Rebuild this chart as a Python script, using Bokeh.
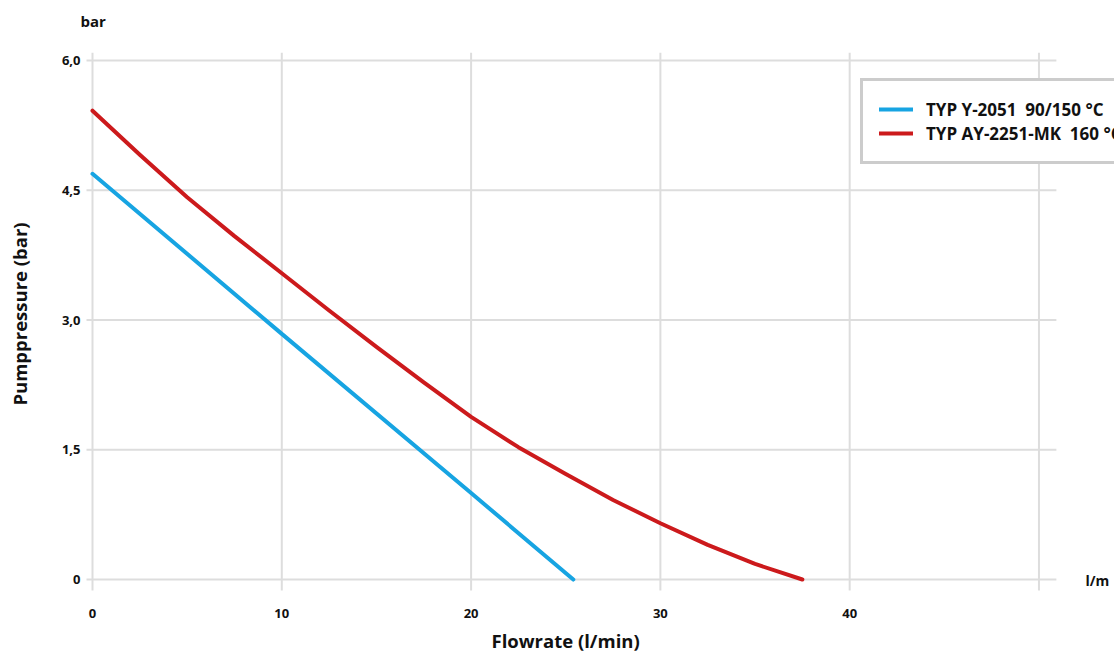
from bokeh.plotting import figure
from bokeh.models import Range1d, FixedTicker, Legend, LegendItem, Label, Title
from bokeh.embed import file_html
from bokeh.resources import INLINE

# ---- data ----
blue_name = "TYP Y-2051  90/150 °C"
red_name = "TYP AY-2251-MK  160 °C"
blue_flow = [0, 10, 20, 25.4]
blue_bar = [4.69, 2.84, 1.0, 0.0]
red_flow = [0, 2.5, 5, 7.5, 10, 12.5, 15, 17.5, 20, 22.5, 25, 27.5, 30, 32.5, 35, 37.5]
red_bar = [5.42, 4.91, 4.42, 3.97, 3.54, 3.11, 2.69, 2.28, 1.88, 1.53, 1.22, 0.92, 0.65, 0.40, 0.18, 0.0]
x_ticks = [0, 10, 20, 30, 40]
x_grid = [0, 10, 20, 30, 40, 50]
y_ticks = [0, 1.5, 3, 4.5, 6]
y_tick_labels = ["0", "1,5", "3,0", "4,5", "6,0"]

FONT = "Open Sans"
BLUE = "#17A4E2"
RED = "#CC1A1C"
GRID = "#DDDDDD"
TXT = "#111111"

# grid extents (data units) and visible ranges
GX0, GX1 = -0.42, 50.92
GY0, GY1 = -0.127, 6.09

p = figure(width=1114, height=662, output_backend="svg", toolbar_location=None,
           x_range=Range1d(-0.317, 53.99), y_range=Range1d(-0.150, 6.289),
           min_border_left=86, min_border_right=0, min_border_top=35, min_border_bottom=70)
p.outline_line_color = None
p.background_fill_color = "white"
p.border_fill_color = "white"
p.xgrid.visible = False
p.ygrid.visible = False

# grid lines (limited extent, as in the reference)
p.segment(x0=x_grid, y0=[GY0] * len(x_grid), x1=x_grid, y1=[GY1] * len(x_grid),
          line_color=GRID, line_width=2)
p.segment(x0=[GX0] * len(y_ticks), y0=y_ticks, x1=[GX1] * len(y_ticks), y1=y_ticks,
          line_color=GRID, line_width=2)

# axes
for ax in (p.xaxis, p.yaxis):
    ax.axis_line_color = None
    ax.major_tick_line_color = None
    ax.minor_tick_line_color = None
    ax.major_tick_in = 0
    ax.major_tick_out = 0
    ax.minor_tick_in = 0
    ax.minor_tick_out = 0
    ax.major_label_text_font = FONT
    ax.major_label_text_font_style = "bold"
    ax.major_label_text_font_size = "13px"
    ax.major_label_text_color = TXT
    ax.axis_label_text_font = FONT
    ax.axis_label_text_font_style = "bold"
    ax.axis_label_text_font_size = "18.5px"
    ax.axis_label_text_color = TXT

p.xaxis.ticker = FixedTicker(ticks=x_ticks)
p.xaxis.major_label_standoff = 16

p.yaxis.ticker = FixedTicker(ticks=y_ticks)
p.yaxis.major_label_overrides = {t: s for t, s in zip(y_ticks, y_tick_labels)}
p.yaxis.major_label_standoff = 6
p.yaxis.axis_label = "Pumppressure (bar)"
p.yaxis.axis_label_standoff = 27

# x axis title (placed below the axis, centred under the grid)
p.add_layout(Title(text="Flowrate (l/min)", align="left", offset=405, standoff=11,
                   text_font=FONT, text_font_style="bold", text_font_size="18.5px",
                   text_color=TXT), "below")
# unit label on top
p.add_layout(Title(text="bar", align="left", offset=-6, standoff=9,
                   text_font=FONT, text_font_style="bold", text_font_size="15px",
                   text_color=TXT), "above")

# series
r_blue = p.line(blue_flow, blue_bar, line_color=BLUE, line_width=4, line_cap="round")
r_red = p.line(red_flow, red_bar, line_color=RED, line_width=4, line_cap="round", line_join="round")

legend = Legend(items=[LegendItem(label=blue_name, renderers=[r_blue]),
                       LegendItem(label=red_name, renderers=[r_red])],
                location=(774, 428), margin=0, padding=16, spacing=0,
                glyph_width=34, glyph_height=24, label_standoff=13, label_height=24,
                border_line_color="#9A9A9A", border_line_width=3,
                background_fill_color="white", background_fill_alpha=1.0,
                label_text_font=FONT, label_text_font_style="bold",
                label_text_font_size="17px", label_text_color=TXT)
p.add_layout(legend, "center")

# unit label at the right end of the x axis
p.add_layout(Label(x=999, y=12, x_units="screen", y_units="screen", text="l/m",
                   text_font=FONT, text_font_style="bold", text_font_size="14px",
                   text_color=TXT, text_baseline="middle"))

open("out.html", "w").write(file_html(p, INLINE))
